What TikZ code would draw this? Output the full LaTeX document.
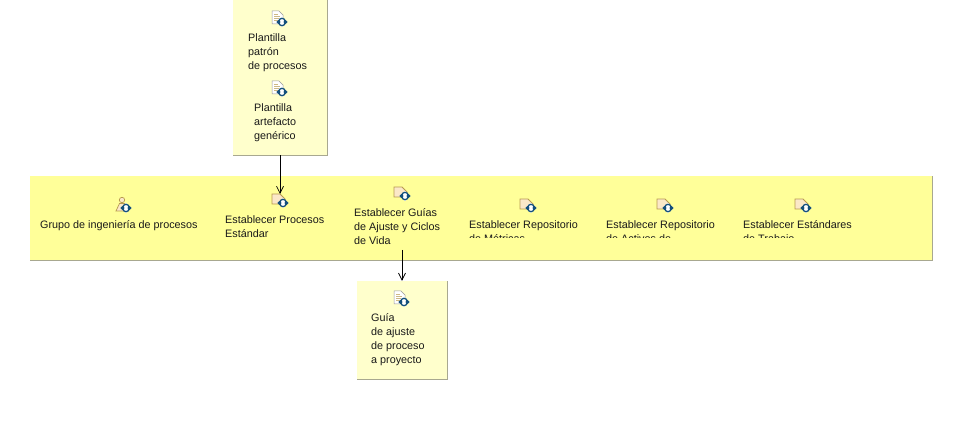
\documentclass[tikz,border=0pt]{standalone}
\usepackage{fontspec}
\setmainfont{Liberation Sans}
\usetikzlibrary{arrows.meta}
\definecolor{notefill}{HTML}{FFFFCC}
\definecolor{bandfill}{HTML}{FFFF99}
\definecolor{edgegray}{HTML}{A8A890}
\definecolor{icontan}{HTML}{B89A50}
\definecolor{iconpage}{HTML}{FBE8C8}
\definecolor{iconblue}{HTML}{14507C}
\tikzset{
  x=1pt,y=-1pt,
  lab/.style={font=\fontsize{10.8}{14}\selectfont,align=left,anchor=north west,inner sep=0pt,text=black!90},
  note/.style={fill=notefill},
  band/.style={fill=bandfill},
  shadowedge/.style={draw=edgegray,line width=0.8pt},
  conn/.style={draw=black,line width=0.8pt,-{Straight Barb[length=7pt,width=7pt,line width=0.7pt]}},
  iconnode/.style={minimum width=14pt,minimum height=14pt,inner sep=0pt},
  refresh/.pic={
    \fill[white] (-5.5,0)--(0,-5)--(5.5,0)--(0,5)--cycle;
    \draw[iconblue,line width=1.3pt] (-3.2,0) .. controls (-3.2,-5) and (3.2,-5) .. (3.2,0);
    \draw[iconblue,line width=1.3pt] (-3.2,0) .. controls (-3.2,5) and (3.2,5) .. (3.2,0);
    \fill[iconblue] (-5.6,0)--(-3.4,-2.3)--(-1.4,0)--(-3.4,2.3)--cycle;
    \fill[iconblue] (5.6,0)--(3.4,-2.3)--(1.4,0)--(3.4,2.3)--cycle;
  },
  docicon/.pic={
    \fill[white,draw=black!40,line width=0.5pt] (-7,-7)--(0,-7)--(4,-3)--(4,6)--(-7,6)--cycle;
    \draw[icontan!70,line width=0.5pt] (-5,-4)--(-1,-4) (-5,-2)--(1,-2) (-5,0)--(0,0) (-5,2)--(-1,2);
    \pic at (3,4) {refresh};
  },
  taskicon/.pic={
    \fill[iconpage,draw=icontan,line width=0.8pt] (-7,-7)--(1,-7)--(6,-2)--(6,3)--(-7,3)--cycle;
    \pic at (4,2) {refresh};
  },
  personicon/.pic={
    \fill[iconpage,draw=icontan,line width=0.7pt] (-1,-5) circle (2.7);
    \fill[iconpage,draw=icontan,line width=0.7pt] (-7,6)--(-3.5,-1.5)--(2,-1.5)--(5,6)--cycle;
    \pic at (3,3) {refresh};
  },
}
\begin{document}
\begin{tikzpicture}
\useasboundingbox (0,0) rectangle (953,438);
% containers
\path[note] (233,0) rectangle (327,155);
\draw[shadowedge] (233,155)--(327,155)--(327,0);
\path[band] (30,176) rectangle (932,260);
\draw[shadowedge] (30,260)--(932,260)--(932,176);
\path[note] (357,281) rectangle (447,379);
\draw[shadowedge] (357,379)--(447,379)--(447,281);
\node[inner sep=0pt,minimum size=0pt] (top) at (280,155) {};
\node[inner sep=0pt,minimum size=0pt] (guidebox) at (402,281) {};
% top box
\node[iconnode] (i1) at (279,18) {};
\pic at (279,18) {docicon};
\node[lab] (t1) at (248,33) {Plantilla\\patrón\\de procesos};
\node[iconnode] (i2) at (279,88) {};
\pic at (279,88) {docicon};
\node[lab] (t2) at (254,103) {Plantilla\\artefacto\\genérico};
% band
\node[iconnode] (b1) at (123,205) {};
\pic at (123,205) {personicon};
\node[lab] (bt1) at (40,220) {Grupo de ingeniería de procesos};
\node[iconnode] (b2) at (279,201) {};
\pic at (279,201) {taskicon};
\node[lab] (bt2) at (225,215) {Establecer Procesos\\Estándar};
\node[iconnode] (b3) at (401,194) {};
\pic at (401,194) {taskicon};
\node[lab] (bt3) at (354,208) {Establecer Guías\\de Ajuste y Ciclos\\de Vida};
\node[iconnode] (b4) at (527,206) {};
\pic at (527,206) {taskicon};
\node[iconnode] (b5) at (664,206) {};
\pic at (664,206) {taskicon};
\node[iconnode] (b6) at (802,206) {};
\pic at (802,206) {taskicon};
\begin{scope}
\clip (460,210) rectangle (900,238);
\node[lab] (bt4) at (469,220) {Establecer Repositorio\\de Métricas};
\node[lab] (bt5) at (606,220) {Establecer Repositorio\\de Activos de};
\node[lab] (bt6) at (743,220) {Establecer Estándares\\de Trabajo};
\end{scope}
% bottom box
\node[iconnode] (g) at (401,298) {};
\pic at (401,298) {docicon};
\node[lab] (gt) at (371,313) {Guía\\de ajuste\\de proceso\\a proyecto};
% connectors
\coordinate (b2in) at (280,194);
\coordinate (b3out) at (402,250);
\draw[conn] (top) -- (b2in);
\draw[conn] (b3out) -- (guidebox);
\end{tikzpicture}
\end{document}
